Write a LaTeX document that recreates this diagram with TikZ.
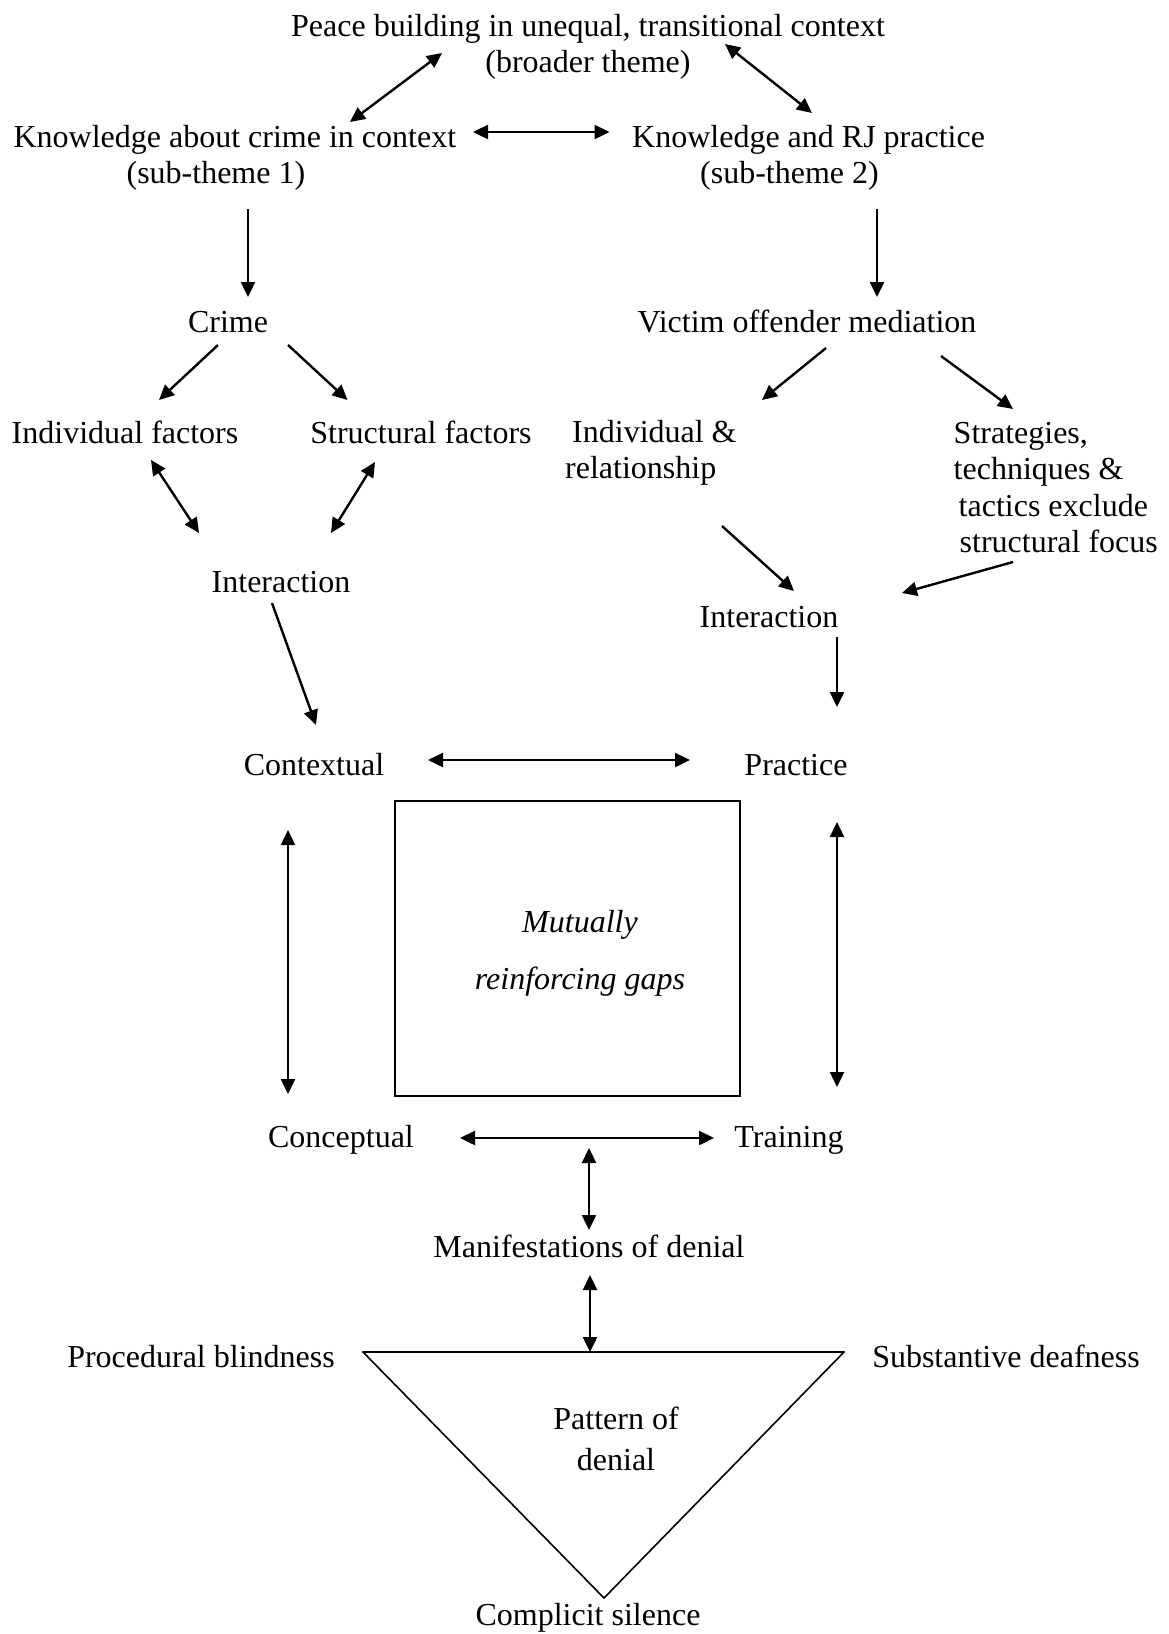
\documentclass[tikz,border=0pt]{standalone}
\usepackage{fontspec}
\setmainfont{Liberation Serif}
\usetikzlibrary{arrows.meta}
\newcommand{\lines}[2]{\begin{tabular}[t]{@{}#1@{}}#2\end{tabular}}
\begin{document}
\begin{tikzpicture}[x=1pt,y=-1pt,
  lbl/.style={inner sep=0pt, anchor=base, font=\fontsize{32}{36.5}\selectfont},
  lblw/.style={lbl, anchor=base west},
  tip/.style={-{Triangle[length=15pt,width=14pt]}, line width=2.4pt},
  dtip/.style={{Triangle[length=15pt,width=14pt]}-{Triangle[length=15pt,width=14pt]}, line width=2.4pt},
  frame/.style={draw, line width=2pt}]
\useasboundingbox (0,0) rectangle (1168,1634);

% themes
\node[lbl]  (title) at (588,36)   {\lines{c}{Peace building in unequal, transitional context\\(broader theme)}};
\node[lblw] (k1)    at (13.4,147) {\lines{l}{Knowledge about crime in context\\\hspace*{113pt}(sub-theme 1)}};
\node[lblw] (k2)    at (632,147)  {\lines{l}{Knowledge and RJ practice\\\hspace*{68pt}(sub-theme 2)}};

% sub-theme 1 branch
\node[lbl] (crime)  at (228,332) {Crime};
\node[lbl] (indf)   at (125,443) {Individual factors};
\node[lbl] (strf)   at (421,443) {Structural factors};
\node[lbl] (interl) at (281,592) {Interaction};

% sub-theme 2 branch
\node[lbl]  (vom)    at (807,332)   {Victim offender mediation};
\node[lblw] (indrel) at (565,442)   {\lines{l}{\hspace*{7pt}Individual \&\\relationship}};
\node[lblw] (strat)  at (953.5,443) {\lines{l}{Strategies,\\techniques \&\\\hspace*{5pt}tactics exclude\\\hspace*{6pt}structural focus}};
\node[lbl]  (interr) at (769,627)   {Interaction};

% gaps square
\node[lbl] (contextual) at (314,775)  {Contextual};
\node[lbl] (practice)   at (796,775)  {Practice};
\node[lbl] (conceptual) at (341,1147) {Conceptual};
\node[lbl] (training)   at (789,1147) {Training};
\node[frame, minimum width=345pt, minimum height=295pt, inner sep=0pt] (gapbox) at (567.5,948.2) {};
\node[lbl] (gaptext) at (580,932) {\lines{c}{\textit{Mutually}\\[20.5pt]\textit{reinforcing gaps}}};

% denial
\node[lbl] (manif)     at (589,1257) {Manifestations of denial};
\node[lbl] (procb)     at (201,1367) {Procedural blindness};
\node[lbl] (subd)      at (1006,1367) {Substantive deafness};
\node[lbl] (pattern)   at (616,1429) {\lines{c}{Pattern of\\[4.5pt]denial}};
\node[lbl] (complicit) at (588,1625) {Complicit silence};
\coordinate (trl) at (363,1352);
\coordinate (trr) at (844,1352);
\coordinate (tra) at (604,1598);
\draw[line width=1.6pt, line join=miter] (trr) -- (tra) -- (trl);
\draw[line width=2.3pt, line cap=round] (trl) -- (trr);

% connector ends
\coordinate (a1s) at (442,53);   \coordinate (a1e) at (350,122);
\coordinate (a2s) at (725,44);   \coordinate (a2e) at (812,113);
\coordinate (a3s) at (473,132);  \coordinate (a3e) at (609.5,132);
\coordinate (a4s) at (248,209);  \coordinate (a4e) at (248,297);
\coordinate (a5s) at (877,209);  \coordinate (a5e) at (877,297);
\coordinate (a6s) at (218,345);  \coordinate (a6e) at (159,400);
\coordinate (a7s) at (288,345);  \coordinate (a7e) at (347.5,400);
\coordinate (a8s) at (151,460);  \coordinate (a8e) at (199,533);
\coordinate (a9s) at (375,462);  \coordinate (a9e) at (331,533);
\coordinate (a10s) at (272,603); \coordinate (a10e) at (316,725);
\coordinate (a11s) at (826,348); \coordinate (a11e) at (762,400);
\coordinate (a12s) at (941,356); \coordinate (a12e) at (1013,409);
\coordinate (a13s) at (722,526); \coordinate (a13e) at (794,591);
\coordinate (a14s) at (1013,562);\coordinate (a14e) at (902,593);
\coordinate (a15s) at (837,637); \coordinate (a15e) at (837,707);
\coordinate (a16s) at (428,760); \coordinate (a16e) at (690,760);
\coordinate (a17s) at (288,830); \coordinate (a17e) at (288,1094);
\coordinate (a18s) at (837,822); \coordinate (a18e) at (837,1087);
\coordinate (a19s) at (460,1138);\coordinate (a19e) at (714,1138);
\coordinate (a20s) at (589,1148);\coordinate (a20e) at (589,1230);
\coordinate (a21s) at (590,1275);\coordinate (a21e) at (590,1352);

% connectors
\draw[dtip] (a1s) -- (a1e);
\draw[dtip] (a2s) -- (a2e);
\draw[dtip] (a3s) -- (a3e);
\draw[tip]  (a4s) -- (a4e);
\draw[tip]  (a5s) -- (a5e);
\draw[tip]  (a6s) -- (a6e);
\draw[tip]  (a7s) -- (a7e);
\draw[dtip] (a8s) -- (a8e);
\draw[dtip] (a9s) -- (a9e);
\draw[tip]  (a10s) -- (a10e);
\draw[tip]  (a11s) -- (a11e);
\draw[tip]  (a12s) -- (a12e);
\draw[tip]  (a13s) -- (a13e);
\draw[tip]  (a14s) -- (a14e);
\draw[tip]  (a15s) -- (a15e);
\draw[dtip] (a16s) -- (a16e);
\draw[dtip] (a17s) -- (a17e);
\draw[dtip] (a18s) -- (a18e);
\draw[dtip] (a19s) -- (a19e);
\draw[dtip] (a20s) -- (a20e);
\draw[dtip] (a21s) -- (a21e);
\end{tikzpicture}
\end{document}
